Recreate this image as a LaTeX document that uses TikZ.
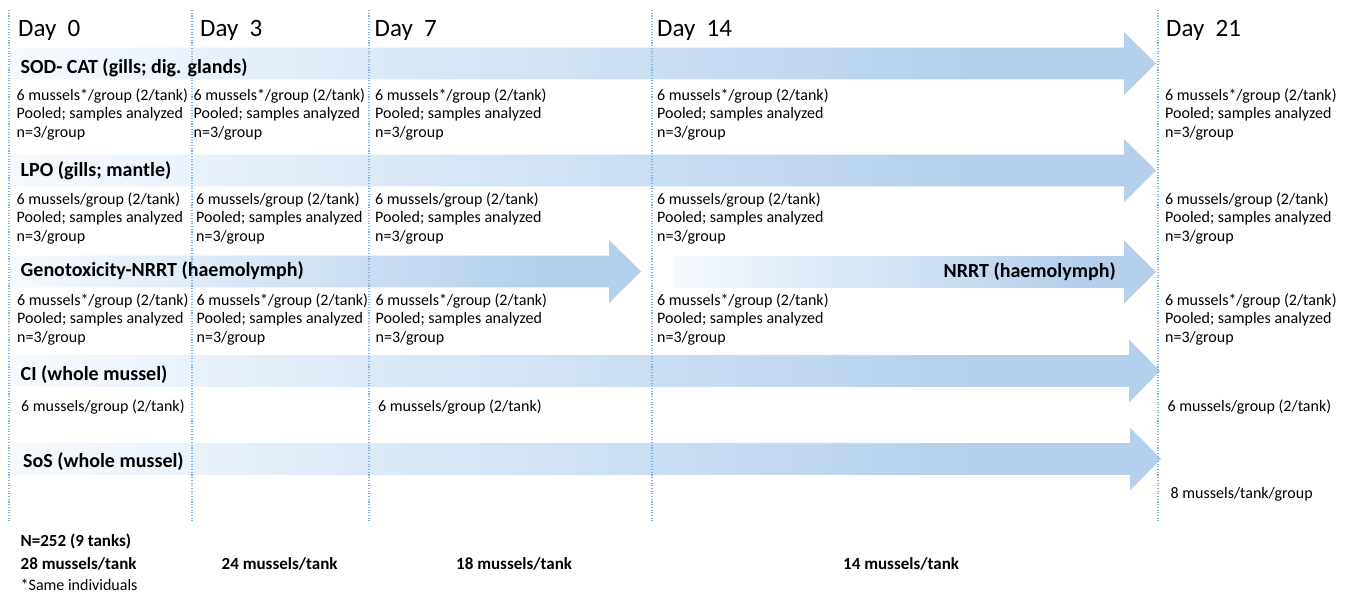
\documentclass[tikz,border=0pt]{standalone}
\usepackage{fontspec}
\setmainfont{Carlito}
\definecolor{arrL}{RGB}{246,250,254}
\definecolor{arrB}{RGB}{180,208,236}
\definecolor{dotc}{RGB}{130,176,224}
\pgfdeclarehorizontalshading{arrowshade}{100bp}{color(0bp)=(arrL); color(25bp)=(arrL); color(67bp)=(arrB); color(100bp)=(arrB)}
\newcommand\blockarrow[4]{%
  \shade[shading=arrowshade] (#1,#4-15.8) -- (#2,#4-15.8) -- (#2,#4-31.5) -- (#3,#4)
    -- (#2,#4+31.5) -- (#2,#4+15.8) -- (#1,#4+15.8) -- cycle;}
\newcommand\tri[3]{\begin{tabular}[t]{@{}l@{}}#1\\#2\\#3\end{tabular}}
\begin{document}
\begin{tikzpicture}[x=1pt,y=-1pt,
  dayline/.style={draw=dotc,line width=1.2pt,dash pattern=on 1.1pt off 1.6pt},
  daylab/.style={font=\fontsize{25}{30}\selectfont,anchor=base west,inner sep=0pt},
  lab/.style={font=\bfseries\fontsize{20}{24}\selectfont,anchor=base west,inner sep=0pt},
  txt/.style={font=\fontsize{16}{18.6}\selectfont,anchor=base west,inner sep=0pt},
  foot/.style={font=\bfseries\fontsize{17}{20}\selectfont,anchor=base west,inner sep=0pt},
  footn/.style={font=\fontsize{16}{19}\selectfont,anchor=base west,inner sep=0pt}]
\useasboundingbox[fill=white] (0,0) rectangle (1352,597);

% arrows
\blockarrow{10}{1124}{1156}{63.5}
\blockarrow{10}{1124}{1156}{170.5}
\blockarrow{10}{609}{641}{271.5}
\blockarrow{673}{1124}{1156}{272}
\blockarrow{10}{1129}{1160}{371}
\blockarrow{10}{1130}{1161}{459}

% day lines
\foreach \n/\x in {a/9,b/192,c/369,d/652,e/1158}{
  \coordinate (\n top) at (\x,10);
  \coordinate (\n bot) at (\x,521);
}
\foreach \n in {a,b,c,d,e}{\draw[dayline] (\n top) -- (\n bot);}

% day labels
\node[daylab] (day0) at (18,36.7) {Day\hspace{0.45em}0};
\node[daylab] (day3) at (200,36.7) {Day\hspace{0.45em}3};
\node[daylab] (day7) at (374.5,36.7) {Day\hspace{0.45em}7};
\node[daylab] (day14) at (657,36.7) {Day\hspace{0.45em}14};
\node[daylab] (day21) at (1166,36.7) {Day\hspace{0.45em}21};

% row labels
\node[lab] (sod) at (20.5,73.3) {SOD- CAT (gills; dig. glands)};
\node[lab] (lpo) at (20.5,176.7) {LPO (gills; mantle)};
\node[lab] (geno) at (20.5,276.7) {Genotoxicity-NRRT (haemolymph)};
\node[lab,anchor=base east] (nrrt) at (1116,277) {NRRT (haemolymph)};
\node[lab] (ci) at (20.5,380) {CI (whole mussel)};
\node[lab] (sos) at (23,467.7) {SoS (whole mussel)};

% SOD row
\node[txt] (s0) at (16.5,100) {\tri{6 mussels*/group (2/tank)}{Pooled; samples analyzed}{n=3/group}};
\node[txt] (s3) at (193.5,100) {\tri{6 mussels*/group (2/tank)}{Pooled; samples analyzed}{n=3/group}};
\node[txt] (s7) at (375,100) {\tri{6 mussels*/group (2/tank)}{Pooled; samples analyzed}{n=3/group}};
\node[txt] (s14) at (657,100) {\tri{6 mussels*/group (2/tank)}{Pooled; samples analyzed}{n=3/group}};
\node[txt] (s21) at (1165,100) {\tri{6 mussels*/group (2/tank)}{Pooled; samples analyzed}{n=3/group}};

% LPO row
\node[txt] (l0) at (16.5,204) {\tri{6 mussels/group (2/tank)}{Pooled; samples analyzed}{n=3/group}};
\node[txt] (l3) at (196,204) {\tri{6 mussels/group (2/tank)}{Pooled; samples analyzed}{n=3/group}};
\node[txt] (l7) at (375,204) {\tri{6 mussels/group (2/tank)}{Pooled; samples analyzed}{n=3/group}};
\node[txt] (l14) at (657,204) {\tri{6 mussels/group (2/tank)}{Pooled; samples analyzed}{n=3/group}};
\node[txt] (l21) at (1165,204) {\tri{6 mussels/group (2/tank)}{Pooled; samples analyzed}{n=3/group}};

% Geno row
\node[txt] (g0) at (17,305) {\tri{6 mussels*/group (2/tank)}{Pooled; samples analyzed}{n=3/group}};
\node[txt] (g3) at (196.5,305) {\tri{6 mussels*/group (2/tank)}{Pooled; samples analyzed}{n=3/group}};
\node[txt] (g7) at (375.5,305) {\tri{6 mussels*/group (2/tank)}{Pooled; samples analyzed}{n=3/group}};
\node[txt] (g14) at (657,305) {\tri{6 mussels*/group (2/tank)}{Pooled; samples analyzed}{n=3/group}};
\node[txt] (g21) at (1165,305) {\tri{6 mussels*/group (2/tank)}{Pooled; samples analyzed}{n=3/group}};

% CI row
\node[txt] (c0) at (21,411.7) {6 mussels/group (2/tank)};
\node[txt] (c7) at (378,411.7) {6 mussels/group (2/tank)};
\node[txt] (c21) at (1167.5,411.7) {6 mussels/group (2/tank)};

% SoS row
\node[txt] (o21) at (1170.5,498) {8 mussels/tank/group};

% footer
\node[foot] (ntot) at (20.5,546.7) {N=252 (9 tanks)};
\node[foot] (t0) at (20.5,569.3) {28 mussels/tank};
\node[foot] (t3) at (221.5,569.3) {24 mussels/tank};
\node[foot] (t7) at (456,569.3) {18 mussels/tank};
\node[foot] (t14) at (843,569.3) {14 mussels/tank};
\node[footn] (same) at (20.5,590.7) {*Same individuals};
\end{tikzpicture}
\end{document}
